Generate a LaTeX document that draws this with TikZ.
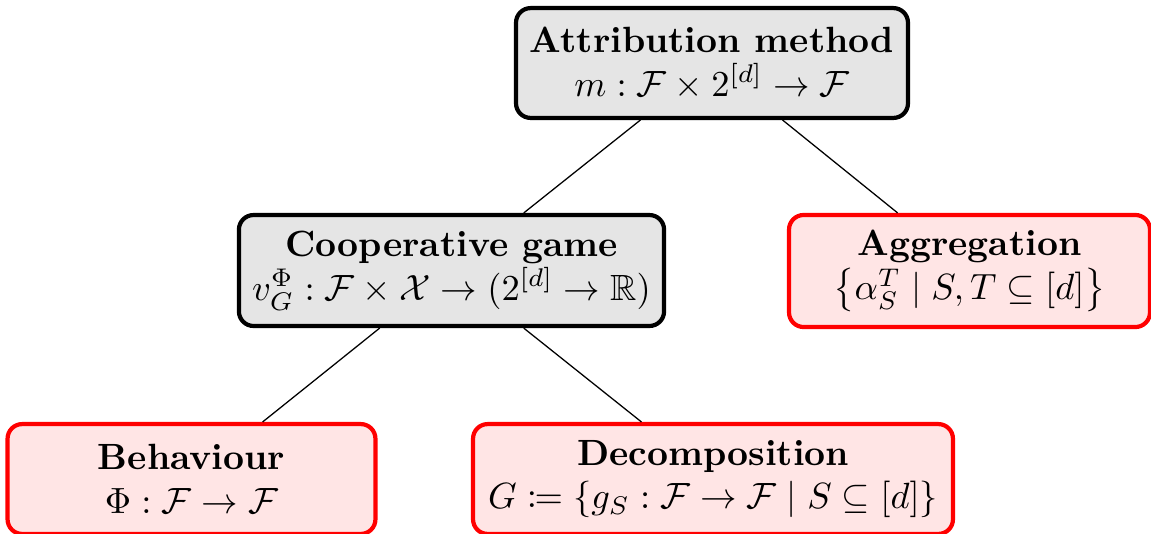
\documentclass[tikz,border=0pt]{standalone}
\usepackage{amsmath,amssymb,mathtools}
\tikzset{
  basebox/.style={rounded corners=4pt, align=center, inner sep=0pt, font=\normalsize},
  graybox/.style={basebox, draw=black, fill=black!10, line width=1.15pt},
  redbox/.style={basebox, draw=red, fill=red!10, line width=1.15pt},
  edge/.style={draw=black, line width=0.35pt}
}
\begin{document}
\begin{tikzpicture}[x=0.274pt, y=-0.274pt]
\useasboundingbox (0,0) rectangle (1151,533);
\node[graybox, minimum width=107.4pt, minimum height=30.1pt] (A) at (712,63)
  {\textbf{Attribution method}\\ $m : \mathcal{F} \times 2^{[d]} \to \mathcal{F}$};
\node[graybox, minimum width=116.5pt, minimum height=30.4pt] (C) at (451.5,270.5)
  {\textbf{Cooperative game}\\ $v_G^{\Phi} : \mathcal{F} \times \mathcal{X} \to (2^{[d]} \to \mathbb{R})$};
\node[redbox, minimum width=98.9pt, minimum height=30.7pt] (Ag) at (969.5,271)
  {\textbf{Aggregation}\\ $\bigl\{\alpha_S^T \mid S, T \subseteq [d]\bigr\}$};
\node[redbox, minimum width=100.8pt, minimum height=30.1pt] (B) at (191.5,479)
  {\textbf{Behaviour}\\ $\Phi : \mathcal{F} \to \mathcal{F}$};
\node[redbox, minimum width=131.5pt, minimum height=30.1pt] (D) at (713,479)
  {\textbf{Decomposition}\\ $G \coloneqq \{g_S : \mathcal{F} \to \mathcal{F} \mid S \subseteq [d]\}$};
\draw[edge] (A) -- (C);
\draw[edge] (A) -- (Ag);
\draw[edge] (C) -- (B);
\draw[edge] (C) -- (D);
\end{tikzpicture}
\end{document}
